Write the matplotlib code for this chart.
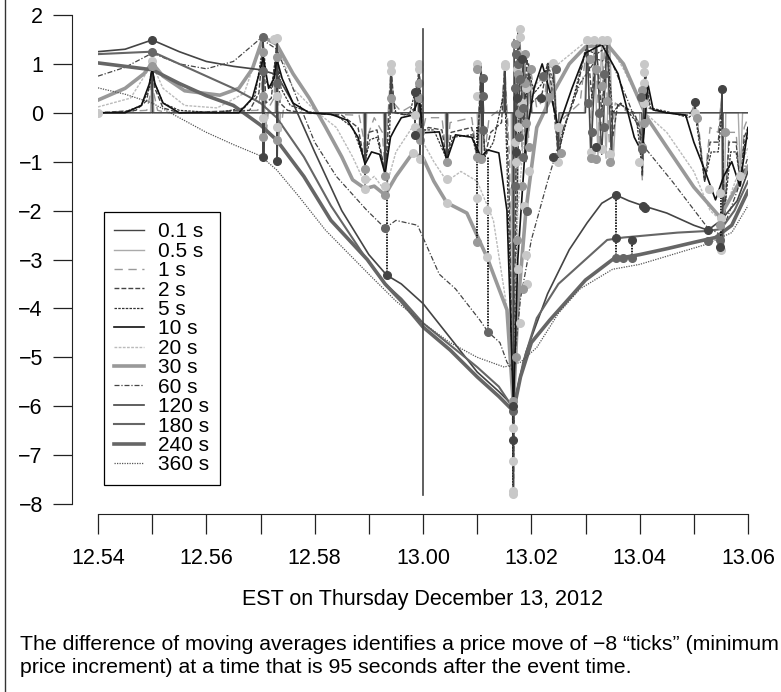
#%%
import numpy as np
import matplotlib.pyplot as plt
from matplotlib.lines import Line2D

plt.rcParams['font.family'] = ['Liberation Sans', 'DejaVu Sans']

#%%
# time axis is minutes after 12:00 (54 -> 12.54, 60 -> 13.00, 66 -> 13.06)
tick_pos = [54, 55, 56, 57, 58, 59, 60, 61, 62, 63, 64, 65, 66]
tick_lab = ['12.54', '', '12.56', '', '12.58', '', '13.00', '', '13.02', '', '13.04', '', '13.06']
event_time = 60.0

labels = ['0.1 s', '0.5 s', '1 s', '2 s', '5 s', '10 s', '20 s', '30 s',
          '60 s', '120 s', '180 s', '240 s', '360 s']

# difference of moving averages (ticks) as (time, value)
pts_01 = [(54.0, 0), (55.0, 0), (55.0, 0.95), (55.01, 0),
          (57.04, 0), (57.05, 1.5), (57.06, -0.9), (57.07, 0),
          (57.29, 0), (57.3, 1.5), (57.31, -0.98), (57.32, 0),
          (58.92, 0), (58.93, -1.1), (58.94, 0), (59.29, 0), (59.3, -1.3), (59.31, 0),
          (59.4, 0), (59.41, 1.0), (59.42, 0), (59.92, 0), (59.93, 1.0), (59.94, -0.95), (59.95, 0),
          (60.43, 0), (60.44, -1.0), (60.45, 0), (61.06, 0), (61.07, 1.0), (61.08, -0.9), (61.09, 0),
          (61.5, 0), (61.51, 1.0), (61.52, 0), (61.66, 0), (61.67, -7.8), (61.68, 1.5), (61.72, -1.0),
          (61.75, 1.7), (61.8, -0.5), (61.85, 1.2), (61.9, -1.0), (61.95, 1.0), (62.0, 0),
          (62.29, 0), (62.3, 1.0), (62.4, 1.0), (62.5, -1.0), (62.51, 0),
          (63.0, 0), (63.03, 1.5), (63.1, -0.9), (63.2, 1.45), (63.3, -0.85), (63.4, 1.5), (63.48, -1.0), (63.5, 0),
          (64.04, 0), (64.05, -1.0), (64.1, 1.0), (64.11, 0), (65.01, 0), (65.02, 0.22), (65.03, 0),
          (65.51, 0), (65.52, 0.49), (65.53, -2.8), (65.54, 0), (66.0, 0)]
pts_05 = [(54.0, 0), (54.97, 0), (55.0, 1.05), (55.03, 0),
          (57.02, 0), (57.05, 1.55), (57.07, 0.3), (57.09, -0.5), (57.12, 0),
          (57.27, 0), (57.3, 1.52), (57.32, 0.3), (57.34, -0.55), (57.37, 0),
          (58.9, 0), (58.93, -1.15), (58.96, 0), (59.27, 0), (59.3, -1.3), (59.33, 0),
          (59.38, 0), (59.41, 1.0), (59.44, 0), (59.9, 0), (59.93, 1.0), (59.95, -0.55), (59.98, 0),
          (60.41, 0), (60.44, -1.0), (60.47, 0), (61.0, 0), (61.03, -0.9), (61.07, 1.0), (61.1, 0.35), (61.13, 0),
          (61.48, 0), (61.51, 1.0), (61.54, 0), (61.63, 0), (61.67, -7.75), (61.7, 1.0), (61.74, -2.0),
          (61.79, 1.72), (61.83, -0.3), (61.88, 1.2), (61.93, -0.6), (61.97, 0.9), (62.02, 0),
          (62.25, 0), (62.31, 1.02), (62.36, 0.3), (62.42, 1.0), (62.5, -1.0), (62.55, 0),
          (62.98, 0), (63.03, 1.49), (63.09, -0.8), (63.16, 1.45), (63.23, -0.9), (63.3, 1.48),
          (63.38, -0.93), (63.45, 1.48), (63.51, -1.0), (63.56, 0),
          (64.0, 0), (64.03, -1.0), (64.1, 1.0), (64.13, 0), (64.98, 0), (65.02, 0.15), (65.05, 0),
          (65.48, 0), (65.52, 0.3), (65.55, -2.8), (65.59, 0), (65.82, 0), (65.86, -1.3), (65.9, 0), (66.0, 0)]
pts_1 = [(54.0, 0), (54.9, 0.05), (54.97, 0.4), (55.0, 1.0), (55.03, 0.4), (55.1, 0.05), (55.3, 0),
         (56.95, 0.05), (57.02, 0.5), (57.05, 1.5), (57.1, -0.5), (57.15, 0.1), (57.25, 0.3), (57.3, 1.5),
         (57.35, -0.6), (57.42, 0.05), (57.6, 0),
         (58.82, -0.05), (58.9, -0.5), (58.93, -1.1), (58.97, -0.5), (59.1, -0.1), (59.25, -0.4), (59.3, -1.25),
         (59.34, -0.3), (59.41, 0.95), (59.46, 0.2), (59.6, 0.02),
         (59.88, 0.2), (59.93, 1.0), (59.97, -0.5), (60.05, -0.1), (60.35, -0.1), (60.44, -0.95), (60.5, -0.2),
         (60.9, -0.1), (61.0, -0.9), (61.07, 1.0), (61.14, -0.85), (61.22, -0.1), (61.45, 0.1), (61.51, 1.0),
         (61.6, -1.0), (61.67, -7.7), (61.72, 0.5), (61.78, 1.6), (61.83, -0.8), (61.88, 1.0), (61.95, -0.5),
         (62.0, 0.8), (62.1, 0.1), (62.25, 0.3), (62.3, 1.0), (62.4, 0.9), (62.5, -0.95), (62.6, -0.1),
         (62.9, 0.2), (63.03, 1.45), (63.1, -0.6), (63.18, 1.4), (63.27, -0.7), (63.35, 1.45), (63.45, -0.85),
         (63.55, 0.2), (63.8, 0), (64.0, -0.2), (64.05, -1.4), (64.1, 0.95), (64.15, 0.1), (64.4, 0),
         (64.95, 0), (65.02, 0.2), (65.1, -0.4), (65.2, -1.4), (65.3, -0.3), (65.45, -0.4), (65.52, 0.4),
         (65.56, -2.3), (65.65, -0.4), (65.78, -0.4), (65.86, -1.55), (65.93, -0.3), (66.0, -0.1)]
pts_2 = [(54.0, 0), (54.7, 0.05), (54.9, 0.25), (55.0, 0.95), (55.05, 0.5), (55.2, 0.1), (55.5, 0),
         (56.8, 0.05), (56.97, 0.4), (57.05, 1.45), (57.1, 0.2), (57.2, 0.3), (57.3, 1.4), (57.36, 0.2),
         (57.5, 0.05), (57.8, 0),
         (58.5, -0.05), (58.8, -0.3), (58.93, -1.05), (59.0, -0.4), (59.15, -0.35), (59.3, -1.25), (59.36, -0.3),
         (59.41, 0.9), (59.48, 0.0), (59.7, -0.05), (59.85, 0.1), (59.93, 0.95), (59.98, -0.4), (60.1, -0.3),
         (60.35, -0.35), (60.44, -1.0), (60.52, -0.4), (60.9, -0.3), (61.0, -0.9), (61.07, 0.95), (61.14, -0.9),
         (61.25, -0.4), (61.45, -0.2), (61.51, 0.95), (61.6, -2.0), (61.67, -7.5), (61.72, -0.5), (61.78, 1.5),
         (61.85, -0.3), (61.92, 1.1), (62.0, 0.2), (62.2, 0.4), (62.3, 1.0), (62.38, 0.5), (62.5, -0.9),
         (62.6, -0.3), (62.8, 0.3), (63.03, 1.4), (63.12, 0.3), (63.2, 1.35), (63.3, 0.0), (63.4, 1.4),
         (63.5, -0.5), (63.6, 0.2), (63.9, 0.0), (64.0, -0.3), (64.05, -1.3), (64.1, 0.9), (64.18, 0.1),
         (64.5, 0), (64.9, -0.05), (65.02, 0.1), (65.1, -0.5), (65.2, -1.4), (65.3, -0.6), (65.45, -0.6),
         (65.52, 0.2), (65.56, -2.2), (65.65, -0.6), (65.78, -0.6), (65.86, -1.5), (65.93, -0.5), (66.0, -0.3)]
pts_5 = [(54.0, 0), (54.5, 0.02), (54.8, 0.15), (54.95, 0.5), (55.0, 0.9), (55.05, 0.6), (55.2, 0.2),
         (55.5, 0.05), (56.2, 0), (56.7, 0.1), (56.9, 0.35), (57.05, 1.4), (57.12, 0.6), (57.2, 0.5),
         (57.3, 1.3), (57.38, 0.5), (57.55, 0.15), (57.9, 0.02),
         (58.4, -0.05), (58.7, -0.3), (58.93, -1.0), (59.02, -0.55), (59.15, -0.5), (59.3, -1.2), (59.38, -0.5),
         (59.41, 0.5), (59.5, 0.0), (59.75, -0.05), (59.93, 0.8), (60.0, -0.35), (60.2, -0.35), (60.44, -0.95),
         (60.55, -0.5), (60.9, -0.45), (61.0, -0.9), (61.07, 0.7), (61.14, -0.9), (61.3, -0.6), (61.51, 0.5),
         (61.6, -3.0), (61.67, -7.0), (61.75, -1.0), (61.8, 1.2), (61.9, 0.3), (61.95, 0.9), (62.05, 0.4),
         (62.2, 0.6), (62.3, 1.0), (62.42, 0.6), (62.5, -0.8), (62.62, -0.3), (62.8, 0.4), (63.0, 1.3),
         (63.2, 1.2), (63.4, 1.35), (63.5, 0.0), (63.65, 0.2), (63.95, -0.2), (64.05, -1.2), (64.1, 0.8),
         (64.2, 0.1), (64.6, 0.0), (64.9, -0.1), (65.02, 0.0), (65.1, -0.6), (65.2, -1.4), (65.32, -0.8),
         (65.45, -0.8), (65.52, 0.0), (65.56, -2.1), (65.68, -0.8), (65.78, -0.8), (65.86, -1.4),
         (65.94, -0.6), (66.0, -0.5)]
pts_10 = [(54.0, 0.0), (54.5, 0.0), (54.8, 0.15), (54.95, 0.6), (55.0, 0.9), (55.05, 0.6), (55.2, 0.2),
          (55.5, 0.0), (56.6, 0.0), (56.85, 0.3), (57.0, 0.9), (57.05, 1.14), (57.15, 0.5), (57.25, 0.7),
          (57.3, 1.1), (57.4, 0.7), (57.6, 0.2), (57.9, 0.0), (58.3, -0.03), (58.6, -0.15), (58.8, -0.5),
          (58.93, -1.05), (59.05, -0.8), (59.2, -0.85), (59.3, -1.25), (59.4, -0.5), (59.5, -0.29),
          (59.6, -0.1), (59.8, -0.05), (59.93, 0.3), (60.0, -0.41), (60.3, -0.39), (60.44, -0.97),
          (60.6, -0.45), (60.9, -0.5), (61.07, -0.9), (61.2, -0.76), (61.4, -0.82), (61.55, -2.0),
          (61.67, -6.0), (61.75, -3.0), (61.9, -0.5), (62.05, 0.5), (62.2, 1.0), (62.35, 0.4), (62.5, -0.3),
          (62.75, 0.5), (63.0, 1.22), (63.3, 1.4), (63.6, 0.8), (63.9, -0.5), (64.05, -0.82), (64.15, 0.6),
          (64.25, 0.06), (64.5, 0.0), (64.85, -0.05), (65.0, -0.6), (65.2, -1.17), (65.4, -1.78),
          (65.55, -1.3), (65.7, -1.0), (65.85, -1.5), (66.0, -0.3)]
pts_20 = [(54.0, 0.12), (54.6, 0.3), (55.0, 1.0), (55.2, 0.5), (55.6, 0.15), (56.2, 0.1), (56.7, 0.4),
          (57.05, 1.55), (57.3, 1.45), (57.6, 0.5), (58.0, 0.05), (58.4, -0.3), (58.7, -0.9), (58.93, -1.45),
          (59.1, -1.3), (59.3, -1.6), (59.5, -0.8), (59.8, -0.3), (60.0, -0.6), (60.2, -1.0), (60.44, -1.4),
          (60.7, -1.2), (61.0, -1.4), (61.3, -2.2), (61.55, -4.0), (61.67, -5.8), (61.75, -2.0), (61.9, 0.0),
          (62.1, 0.6), (62.5, 1.0), (63.0, 1.45), (63.4, 1.45), (63.7, 0.9), (64.1, 0.0), (64.5, -0.4),
          (65.0, -1.2), (65.3, -2.0), (65.5, -2.2), (65.8, -1.3), (66.0, -0.7)]
pts_30 = [(54.0, 0.26), (54.5, 0.5), (54.85, 0.8), (55.0, 1.02), (55.2, 0.75), (55.6, 0.45), (56.25, 0.36),
          (56.6, 0.5), (56.85, 0.9), (57.05, 1.55), (57.3, 1.4), (57.6, 0.8), (57.9, 0.3), (58.2, -0.29),
          (58.5, -0.9), (58.7, -1.37), (58.93, -1.55), (59.1, -1.5), (59.3, -1.68), (59.5, -1.3), (59.81, -0.82),
          (60.0, -0.92), (60.2, -1.4), (60.44, -1.84), (60.81, -2.05), (61.18, -2.95), (61.55, -4.03),
          (61.67, -6.0), (61.75, -4.0), (61.9, -2.0), (62.1, -0.3), (62.4, 0.4), (62.7, 1.0), (63.0, 1.35),
          (63.4, 1.4), (63.7, 1.0), (64.13, -0.09), (64.5, -0.7), (65.0, -1.52), (65.48, -2.13), (65.7, -1.7),
          (66.0, -1.1)]
pts_60 = [(54.0, 0.75), (54.5, 0.93), (55.0, 1.22), (55.5, 1.0), (56.0, 0.9), (56.5, 1.05), (57.0, 1.52),
          (57.3, 1.3), (57.6, 0.5), (58.0, -0.6), (58.4, -1.3), (58.96, -1.99), (59.3, -2.36), (59.5, -2.2),
          (59.9, -2.3), (60.3, -3.3), (60.6, -3.6), (61.05, -4.24), (61.2, -4.48), (61.42, -4.7),
          (61.55, -5.1), (61.67, -5.3), (61.8, -3.8), (62.0, -2.6), (62.3, -1.4), (62.6, -0.3), (62.9, 0.6),
          (63.2, 1.1), (63.5, 1.0), (63.8, 0.2), (64.13, -0.76), (64.6, -1.4), (65.24, -2.33), (65.5, -2.5),
          (65.8, -1.6), (66.0, -0.9)]
pts_120 = [(54.0, 1.25), (54.5, 1.3), (55.0, 1.49), (55.5, 1.25), (56.0, 1.05), (56.5, 0.95), (57.0, 0.88),
           (57.3, 0.78), (57.6, 0.2), (58.0, -0.8), (58.5, -2.0), (59.0, -2.9), (59.33, -3.32), (59.6, -3.5),
           (60.0, -3.9), (60.5, -4.6), (61.0, -5.3), (61.4, -5.7), (61.67, -6.0), (61.9, -4.9), (62.3, -3.7),
           (62.7, -2.8), (63.03, -2.25), (63.3, -1.85), (63.56, -1.68), (63.8, -1.8), (64.06, -1.9),
           (64.5, -2.05), (65.0, -2.3), (65.26, -2.4), (65.5, -2.2), (65.8, -1.8), (66.0, -1.2)]
pts_180 = [(54.0, 1.2), (55.0, 1.25), (55.5, 1.0), (56.0, 0.75), (56.5, 0.5), (57.0, 0.2), (57.3, -0.1),
           (57.8, -0.9), (58.3, -1.9), (58.9, -2.9), (59.3, -3.5), (59.6, -3.8), (60.0, -4.3), (60.5, -4.75),
           (61.0, -5.2), (61.4, -5.6), (61.67, -6.05), (61.85, -5.1), (62.1, -4.2), (62.5, -3.5), (63.0, -3.0),
           (63.4, -2.6), (63.7, -2.55), (64.2, -2.5), (64.7, -2.45), (65.2, -2.42), (65.5, -2.38),
           (65.75, -2.0), (66.0, -1.4)]
pts_240 = [(54.0, 1.02), (55.0, 0.88), (55.5, 0.6), (56.0, 0.35), (56.5, 0.15), (57.0, -0.25), (57.3, -0.56),
           (57.8, -1.3), (58.3, -2.2), (58.97, -3.0), (59.3, -3.5), (59.6, -3.85), (60.0, -4.38), (60.5, -4.85),
           (61.0, -5.4), (61.4, -5.8), (61.67, -6.1), (61.8, -5.4), (62.0, -4.7), (62.34, -4.24), (63.0, -3.42),
           (63.5, -3.0), (64.0, -2.9), (64.5, -2.78), (65.0, -2.65), (65.4, -2.55), (65.7, -2.3), (66.0, -1.6)]
pts_360 = [(54.0, 0.51), (54.5, 0.38), (55.0, 0.2), (55.5, -0.1), (56.0, -0.4), (56.5, -0.65), (57.0, -0.88),
           (57.3, -1.17), (57.7, -1.7), (58.2, -2.4), (58.6, -2.85), (59.0, -3.3), (59.5, -3.85), (60.0, -4.3),
           (60.5, -4.7), (61.0, -5.0), (61.5, -5.2), (61.8, -5.1), (62.1, -4.8), (62.5, -4.1), (62.9, -3.6),
           (63.5, -3.2), (64.0, -3.1), (64.6, -2.9), (65.2, -2.7), (65.7, -2.45), (66.0, -1.9)]

# dots marking the series at trade times, grouped by shade
dots_light = [(54.0, 0.0), (55.0, 1.05), (57.3, 1.52), (57.25, 1.5), (57.05, -0.1), (57.3, 0.35), (57.3, -0.3),
              (58.93, -1.35), (58.93, -1.55), (59.3, -1.5), (59.41, 1.0), (59.41, 0.85), (59.85, -0.05),
              (59.85, -0.3), (59.81, -0.82), (59.93, 1.0), (59.93, 0.9), (59.95, -0.95), (60.44, -1.35),
              (60.44, -1.84), (61.0, 1.0), (61.0, 0.35), (61.0, -1.74), (61.18, -1.99), (61.18, -2.95),
              (61.51, 1.0), (61.51, 0.95), (61.67, -6.45), (61.67, -7.12), (61.67, -7.73), (61.67, -7.8),
              (61.79, 1.72), (61.79, 1.55), (61.72, -1.0), (61.9, 0.5), (61.75, -0.3), (62.4, 1.02),
              (62.5, -1.0), (62.5, -0.3), (63.03, 1.49), (63.15, 1.48), (63.3, 1.48), (63.4, 1.48), (63.1, -0.8),
              (63.3, -0.75), (63.45, -0.85), (64.08, 1.0), (64.08, 0.83), (64.08, 0.6), (63.98, -1.0),
              (64.08, 0.2), (65.02, 0.0), (65.48, -1.64), (65.5, -2.15), (65.5, -2.8), (65.86, -1.3),
              (65.28, -1.55), (61.78, 1.2), (61.82, 0.2), (61.86, -1.9), (61.9, -2.9), (61.92, -3.5),
              (61.76, -3.2), (61.8, -4.3), (61.74, 0.9), (61.7, -0.6), (61.95, -1.2)]
dots_mid = [(55.0, 0.95), (57.05, 1.25), (57.05, 0.35), (57.05, -0.5), (57.3, 1.15), (57.3, -0.55),
            (58.93, -1.15), (59.3, -1.3), (59.3, -1.68), (59.41, 0.3), (59.93, 0.6), (59.93, 0.3),
            (59.95, -0.4), (59.95, -0.55), (60.44, -1.0), (61.0, 0.9), (61.0, -0.9), (61.07, -0.95),
            (61.0, -2.64), (61.67, -5.9), (61.75, 0.8), (61.82, -1.5), (61.88, 1.2), (61.95, -0.7), (62.0, 0.9),
            (62.22, 0.73), (62.32, 0.32), (62.55, -0.82), (63.08, 1.1), (63.2, 0.9), (63.3, 0.55), (63.4, 0.25),
            (63.1, -0.93), (63.2, -0.95), (63.45, -1.0), (64.05, 0.47), (64.05, -0.7), (64.08, -0.2),
            (65.05, -0.1), (65.48, -2.3), (65.58, -0.4), (61.7, 1.4), (61.74, -2.6), (61.84, -3.6),
            (61.78, 0.0), (61.88, 0.6), (61.72, -5.0), (61.9, -0.2)]
dots_dark = [(55.0, 1.25), (57.05, 1.55), (57.05, 0.85), (57.3, 0.6), (59.3, -2.36), (61.2, -4.48),
             (61.67, -6.1), (61.1, 0.72), (61.1, 0.35), (61.1, -0.35), (61.72, 1.2), (61.7, 0.5), (61.78, -0.5),
             (61.85, 0.1), (61.92, -2.0), (62.22, 0.75), (62.45, 0.9), (63.05, 0.2), (63.12, -0.4),
             (63.25, 0.0), (63.35, -0.3), (63.35, 0.8), (64.02, 0.33), (64.05, -0.75), (63.56, -2.97),
             (63.7, -2.97), (63.86, -2.97), (65.26, -2.63), (65.48, -2.6), (61.76, 1.0), (61.84, -0.9),
             (61.7, -1.5), (61.8, 0.7)]
dots_darker = [(55.0, 1.49), (57.05, -0.9), (57.3, -0.98), (59.33, -3.32), (59.85, 0.43), (59.85, -0.45),
               (61.67, -6.69), (61.67, -6.0), (61.72, -0.8), (62.18, 0.3), (62.4, -0.9), (63.2, -0.7),
               (63.56, -1.68), (63.56, -2.56), (63.86, -2.6), (64.06, -1.9), (64.1, -1.95), (65.26, -2.4),
               (65.48, -2.75), (65.02, 0.22), (65.52, 0.49), (61.74, 0.3), (61.82, 1.1)]

# vertical connectors between dots at the same time: (time, low, high)
links_dotted = [(59.33, -3.32, -1.25), (61.0, -2.64, -0.3), (61.2, -4.48, -0.9), (61.67, -7.8, -6.0),
                (63.56, -2.97, -1.68), (63.86, -2.97, -2.6), (65.5, -2.8, -1.6), (58.93, -1.55, -1.05)]
links_solid = [(57.05, -0.9, 1.55), (57.3, -0.98, 1.5), (59.85, -0.45, 0.43), (61.1, -0.35, 0.72),
               (65.02, 0.0, 0.22), (65.52, 0.0, 0.49)]

#%%
series = [pts_01, pts_05, pts_1, pts_2, pts_5, pts_10, pts_20, pts_30,
          pts_60, pts_120, pts_180, pts_240, pts_360]
styles = [
    dict(color='#444444', lw=1.0, ls='-', zorder=2.9),
    dict(color='#aaaaaa', lw=1.0, ls='-'),
    dict(color='#999999', lw=1.0, ls=(0, (6, 4))),
    dict(color='#444444', lw=1.0, ls=(0, (3.5, 1.5))),
    dict(color='#333333', lw=0.9, ls=(0, (2, 1))),
    dict(color='#111111', lw=1.2, ls='-', zorder=3),
    dict(color='#bbbbbb', lw=1.0, ls=(0, (2, 1))),
    dict(color='#999999', lw=2.6, ls='-'),
    dict(color='#444444', lw=0.9, ls=(0, (4, 1.5, 1, 1.5))),
    dict(color='#444444', lw=1.2, ls='-'),
    dict(color='#666666', lw=1.5, ls='-'),
    dict(color='#666666', lw=2.6, ls='-'),
    dict(color='#555555', lw=0.9, ls=(0, (1, 1))),
]

fig = plt.figure(figsize=(7.81, 6.92), dpi=100)
ax = fig.add_axes([98 / 781, 1 - 504 / 692, 650 / 781, 489 / 692])

for pts, st, lab in zip(series, styles, labels):
    arr = np.array(pts)
    ax.plot(arr[:, 0], arr[:, 1], label=lab, **st)

for t, lo, hi in links_solid:
    ax.plot([t, t], [lo, hi], color='#444444', lw=1.4)
for t, lo, hi in links_dotted:
    ax.plot([t, t], [lo, hi], color='black', lw=1.2, ls=(0, (1, 0.7)))

for dots, col in [(dots_light, '#c8c8c8'), (dots_mid, '#999999'),
                  (dots_dark, '#666666'), (dots_darker, '#444444')]:
    arr = np.array(dots)
    ax.plot(arr[:, 0], arr[:, 1], 'o', color=col, ms=5.5, mec=col, zorder=5)

# event time
ax.plot([event_time, event_time], [-7.82, 1.72], color='#444444', lw=1.2, zorder=6)

ax.set_xlim(54, 66)
ax.set_ylim(-8, 2)

#%%
# R style detached axes
for s in ['top', 'right']:
    ax.spines[s].set_visible(False)
ax.spines['left'].set_position(('outward', 18.7))
ax.spines['bottom'].set_position(('outward', 7.2))
ax.spines['left'].set_bounds(-8, 2)
ax.spines['bottom'].set_bounds(54, 66)
ax.spines['left'].set_color('#222222')
ax.spines['bottom'].set_color('#222222')
ax.set_yticks(range(-8, 3))
ax.set_xticks(tick_pos)
ax.set_xticklabels(tick_lab)
ax.tick_params(axis='y', length=14, width=0.9, pad=7, labelsize=15.5, color='#222222')
ax.tick_params(axis='x', length=14.5, width=0.9, pad=10, labelsize=15.5, color='#222222')

leg = ax.legend(loc='upper left', bbox_to_anchor=(104 / 781, 1 - 212 / 692),
                bbox_transform=fig.transFigure, fontsize=15, frameon=True, fancybox=False,
                framealpha=1, edgecolor='black', borderpad=0.5, labelspacing=0.02,
                handlelength=1.4, handletextpad=0.7, borderaxespad=0)
leg.get_frame().set_linewidth(0.9)

fig.text(423 / 781, 1 - 600 / 692, 'EST on Thursday December 13, 2012',
         ha='center', va='center', fontsize=15.5)
fig.text(20 / 781, 1 - 650 / 692,
         'The difference of moving averages identifies a price move of \u22128 \u201cticks\u201d (minimum',
         ha='left', va='baseline', fontsize=15.3)
fig.text(20 / 781, 1 - 673 / 692, 'price increment) at a time that is 95 seconds after the event time.',
         ha='left', va='baseline', fontsize=15.3)

# frame line on the left of the figure
fig.add_artist(Line2D([5 / 781, 5 / 781], [0, 1], transform=fig.transFigure, color='#333333', lw=1))

fig.savefig('out.png', dpi=100)
